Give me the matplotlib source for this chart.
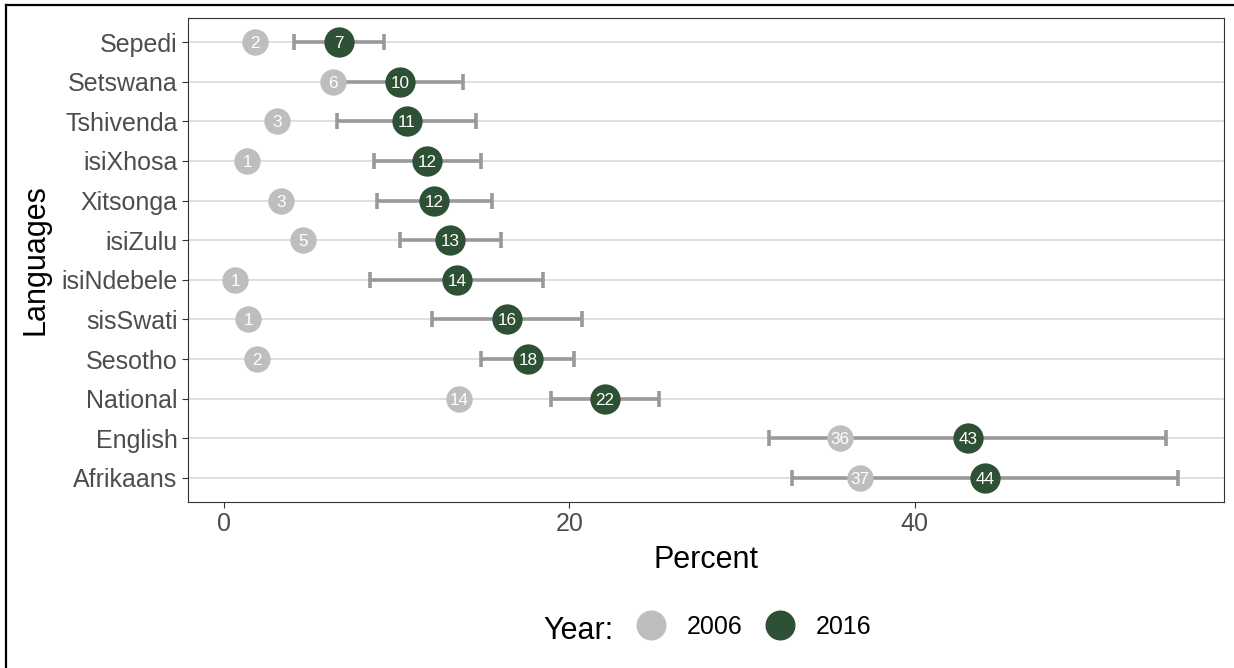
import matplotlib
matplotlib.use("Agg")
import matplotlib.pyplot as plt
from matplotlib.lines import Line2D
import numpy as np

plt.rcParams['font.family'] = ['Liberation Sans', 'DejaVu Sans']

# ---- data (top to bottom as displayed) ----
languages = ["Sepedi", "Setswana", "Tshivenda", "isiXhosa", "Xitsonga", "isiZulu",
             "isiNdebele", "sisSwati", "Sesotho", "National", "English", "Afrikaans"]
pct_2006 = [1.8, 6.3, 3.1, 1.35, 3.3, 4.6, 0.65, 1.4, 1.9, 13.6, 35.65, 36.8]
pct_2016 = [6.66, 10.2, 10.6, 11.75, 12.18, 13.1, 13.51, 16.4, 17.6, 22.06, 43.08, 44.06]
ci_low_2016 = [4.05, 6.5, 6.55, 8.7, 8.86, 10.17, 8.47, 12.06, 14.88, 18.93, 31.57, 32.9]
ci_high_2016 = [9.26, 13.84, 14.6, 14.88, 15.54, 16.02, 18.5, 20.75, 20.28, 25.2, 54.55, 55.24]
labels_2006 = ["2", "6", "3", "1", "3", "5", "1", "1", "2", "14", "36", "37"]
labels_2016 = ["7", "10", "11", "12", "12", "13", "14", "16", "18", "22", "43", "44"]
years = ["2006", "2016"]

col_2006 = "#BEBEBE"
col_2016 = "#2E5034"
col_err = "#999999"

W, H = 1234, 668
fig = plt.figure(figsize=(W / 100, H / 100), dpi=100)
left, right, top, bottom = 188, 1224, 18, 502
ax = fig.add_axes([left / W, 1 - bottom / H, (right - left) / W, (bottom - top) / H])

n = len(languages)
ypos = np.arange(n)[::-1]  # first language at top

# gridlines (horizontal only)
ax.set_axisbelow(True)
ax.yaxis.grid(True, color="#D9D9D9", linewidth=1.2)
ax.xaxis.grid(False)

# error bars for 2016
lo = np.array(pct_2016) - np.array(ci_low_2016)
hi = np.array(ci_high_2016) - np.array(pct_2016)
ax.errorbar(pct_2016, ypos, xerr=[lo, hi], fmt="none", ecolor=col_err,
            elinewidth=2.6, capsize=5.6, capthick=2.6, zorder=2)

ax.scatter(pct_2006, ypos, s=19.0 ** 2, color=col_2006, zorder=3, linewidths=0)
ax.scatter(pct_2016, ypos, s=21.8 ** 2, color=col_2016, zorder=4, linewidths=0)

for x, y, t in zip(pct_2006, ypos, labels_2006):
    ax.text(x, y, t, color="white", fontsize=12.3, ha="center", va="center_baseline", zorder=5)
for x, y, t in zip(pct_2016, ypos, labels_2016):
    ax.text(x, y, t, color="white", fontsize=12.3, ha="center", va="center_baseline", zorder=6)

ax.set_xlim(-2.08, 57.9)
ax.set_ylim(-0.61, n - 0.39)
ax.set_xticks([0, 20, 40])
ax.set_yticks(ypos)
ax.set_yticklabels(languages)

for s in ax.spines.values():
    s.set_color("#333333")
    s.set_linewidth(0.8)

ax.tick_params(axis="both", colors="#333333", labelcolor="#4D4D4D",
               labelsize=18, length=4.5, width=0.8, pad=3)

ax.set_xlabel("Percent", fontsize=22, color="black", labelpad=6)
ax.set_ylabel("Languages", fontsize=22, color="black", labelpad=8)

# legend
handles = [Line2D([], [], marker="o", linestyle="none", markersize=21.6,
                  markerfacecolor=c, markeredgewidth=0) for c in (col_2006, col_2016)]
fig.legend(handles, years, ncol=2, loc="center left",
           bbox_to_anchor=(636 / W, 1 - 627 / H), frameon=False,
           fontsize=18, handlelength=1.2, handletextpad=0.84, columnspacing=0.88,
           borderpad=0, borderaxespad=0)
fig.text(543 / W, 1 - 639 / H, "Year:", fontsize=22, ha="left", va="baseline")

# partial outer border (top and left)
fig.add_artist(Line2D([6 / W, 1], [1 - 5 / H, 1 - 5 / H], color="black", linewidth=1.6,
                      transform=fig.transFigure))
fig.add_artist(Line2D([6 / W, 6 / W], [0, 1 - 5 / H], color="black", linewidth=1.6,
                      transform=fig.transFigure))

fig.savefig("out.png", dpi=100)
